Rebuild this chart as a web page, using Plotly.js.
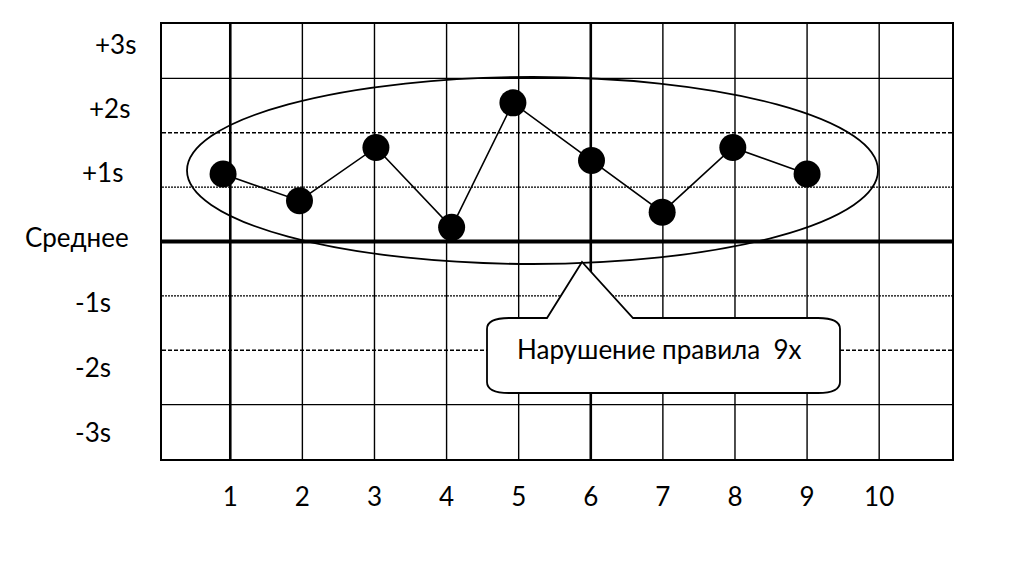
<!DOCTYPE html>
<html>
<head>
<meta charset="utf-8">
<script src="https://cdn.plot.ly/plotly-3.0.1.min.js"></script>
<style>html,body{margin:0;padding:0;background:#fff;}#chart{width:1029px;height:587px;}</style>
</head>
<body>
<div id="chart"></div>
<script>
// ---- data ----
const pointX = [0.90, 1.96, 3.02, 4.07, 4.92, 6.01, 6.99, 7.97, 9.00];
const pointY = [1.24, 0.75, 1.73, 0.26, 2.55, 1.49, 0.54, 1.73, 1.24];
const xTickVals = [1, 2, 3, 4, 5, 6, 7, 8, 9, 10];
const xTickLabels = ['1', '2', '3', '4', '5', '6', '7', '8', '9', '10'];
const yLabels = ['+3s', '+2s', '+1s', 'Среднее', '-1s', '-2s', '-3s'];
const calloutText = 'Нарушение правила  9x';

// ---- layout geometry ----
const W = 1029, H = 587;
const M = {l: 162, r: 77, t: 24, b: 128};
const xr = [0.053, 11.01], yr = [-4, 4];
const pw = W - M.l - M.r, ph = H - M.t - M.b;
const X = px => xr[0] + (px - M.l) / pw * (xr[1] - xr[0]);
const Y = py => yr[1] - (py - M.t) / ph * (yr[1] - yr[0]);
const FONT = 'Lato, "Open Sans", sans-serif';
const FS = 26;

const shapes = [];
// vertical grid lines
xTickVals.forEach(v => {
  shapes.push({type: 'line', layer: 'below', xref: 'x', yref: 'y', x0: v, x1: v, y0: yr[0], y1: yr[1],
    line: {color: '#000', width: (v === 1 || v === 6) ? 2.6 : 1.4}});
});
// horizontal grid lines
[[3, 1.4, 'solid'], [2, 1.4, '4px,2px'], [1, 1.2, '2px,1px'], [0, 4, 'solid'],
 [-1, 1.2, '2px,1px'], [-2, 1.4, '4px,2px'], [-3, 1.4, 'solid']].forEach(([v, w, d]) => {
  shapes.push({type: 'line', layer: 'below', xref: 'paper', yref: 'y', x0: 0, x1: 1, y0: v, y1: v,
    line: {color: '#000', width: w, dash: d}});
});
// ellipse
shapes.push({type: 'circle', layer: 'above', xref: 'x', yref: 'y',
  x0: X(187), x1: X(878), y0: Y(264), y1: Y(77), line: {color: '#000', width: 1.8}});
// callout bubble
const L = 487, R = 840, T = 318, B = 393, rx = 22, ry = 11;
const P = (px, py) => X(px).toFixed(4) + ',' + Y(py).toFixed(4);
const bubble = 'M' + P(L + rx, T) + ' L' + P(547, T) + ' L' + P(582, 262) + ' L' + P(633, T) +
  ' L' + P(R - rx, T) + ' Q' + P(R, T) + ' ' + P(R, T + ry) + ' L' + P(R, B - ry) +
  ' Q' + P(R, B) + ' ' + P(R - rx, B) + ' L' + P(L + rx, B) + ' Q' + P(L, B) + ' ' + P(L, B - ry) +
  ' L' + P(L, T + ry) + ' Q' + P(L, T) + ' ' + P(L + rx, T) + ' Z';
shapes.push({type: 'path', layer: 'above', xref: 'x', yref: 'y', path: bubble,
  fillcolor: '#fff', line: {color: '#000', width: 1.8}});

// y labels as annotations
const yLabelRight = [136, 130, 123, 129, 111, 111, 111];
const yLabelMid = [44, 108, 172, 237, 302, 367, 432];
const annotations = yLabels.map((t, i) => ({
  text: t, xref: 'paper', yref: 'y', x: 0, y: Y(yLabelMid[i]), xanchor: 'right', yanchor: 'middle',
  xshift: yLabelRight[i] - M.l + 2, showarrow: false, font: {family: FONT, size: FS, color: '#000'}
}));
annotations.push({text: calloutText, xref: 'x', yref: 'y', x: X(659), y: Y(349),
  xanchor: 'center', yanchor: 'middle', showarrow: false, font: {family: FONT, size: FS, color: '#000'}});

const trace = {
  type: 'scatter', mode: 'lines+markers', x: pointX, y: pointY,
  line: {color: '#000', width: 1.6},
  marker: {color: '#000', size: 27, line: {color: '#000', width: 0}},
  hoverinfo: 'skip'
};

const layout = {
  width: W, height: H, margin: {l: M.l, r: M.r, t: M.t, b: M.b, pad: 0},
  paper_bgcolor: '#fff', plot_bgcolor: '#fff', showlegend: false,
  font: {family: FONT, color: '#000'},
  xaxis: {range: xr, showgrid: false, zeroline: false, showline: true, mirror: true, linecolor: '#000', linewidth: 2,
    tickmode: 'array', tickvals: xTickVals, ticktext: xTickLabels, ticks: '', ticklabelstandoff: 14,
    tickfont: {family: FONT, size: FS, color: '#000'}},
  yaxis: {range: yr, showgrid: false, zeroline: false, showline: true, mirror: true, linecolor: '#000', linewidth: 2,
    showticklabels: false, ticks: ''},
  shapes: shapes, annotations: annotations
};

Plotly.newPlot('chart', [trace], layout, {displayModeBar: false, staticPlot: true});
</script>
</body>
</html>
